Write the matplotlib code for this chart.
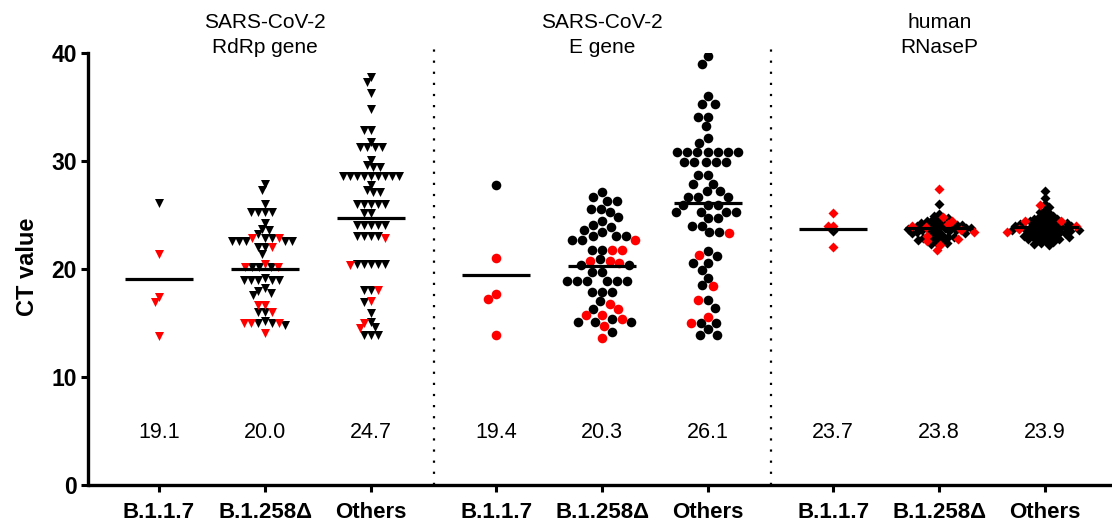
import numpy as np
import matplotlib.pyplot as plt

plt.rcParams['font.family'] = ['Liberation Sans', 'DejaVu Sans']

categories = ['B.1.1.7', 'B.1.258Δ', 'Others']
panel_titles = ['SARS-CoV-2\nRdRp gene', 'SARS-CoV-2\nE gene', 'human\nRNaseP']
mean_values = [19.1, 20.0, 24.7, 19.4, 20.3, 26.1, 23.7, 23.8, 23.9]

# RdRp gene
rdrp_b117_black = [26.1]
rdrp_b117_red = [21.4, 17.4, 16.9, 13.8]
rdrp_b1258_black = [27.9, 27.3, 26.0, 25.3, 25.3, 25.3, 25.3, 24.3, 23.7, 23.6, 23.2,
                    22.9, 22.9, 22.6, 22.6, 22.6, 22.6, 22.6, 22.0, 22.0, 21.4,
                    20.2, 20.2, 20.2, 19.0, 19.0, 19.0, 19.0, 19.0, 19.2,
                    18.0, 17.6, 17.8, 18.2, 16.0, 16.0, 15.0, 14.8, 15.0, 15.2]
rdrp_b1258_red = [22.9, 22.9, 22.0, 20.5, 20.2, 20.2, 16.7, 16.7, 16.0, 15.0, 15.0, 15.0, 14.1]
rdrp_other_black = ([37.8, 37.3, 36.3, 34.8, 32.9, 32.9, 31.8, 31.3, 31.3, 31.3, 31.3,
                     30.1, 29.4, 29.4, 29.6] + [28.6] * 9 + [27.8, 27.1, 27.1, 27.3]
                    + [26.0] * 5 + [25.2, 25.2] + [24.1] * 5 + [23.1] * 4 + [20.5] * 5
                    + [18.1, 18.1, 16.9, 15.9, 15.1, 14.6, 13.9, 13.9, 13.9])
rdrp_other_red = [22.9, 20.4, 18.1, 17.0, 15.0, 14.5]

# E gene
e_b117_black = [27.8]
e_b117_red = [21.0, 17.7, 17.2, 13.9]
e_b1258_black = ([27.1, 26.7, 26.3, 26.3, 25.6, 25.6, 25.3, 24.8, 24.4, 24.1, 23.9,
                  23.6, 23.4, 23.1, 23.1, 23.1, 22.7, 22.7, 21.8, 21.8, 20.9, 20.4,
                  20.4, 19.7, 19.7] + [18.9] * 6 + [17.9] * 3
                 + [17.0, 16.3, 15.4, 15.1, 15.1, 15.1, 14.2])
e_b1258_red = [22.7, 21.8, 21.8, 20.7, 20.7, 20.6, 16.8, 16.3, 15.7, 15.7, 15.4, 14.7, 13.6]
e_other_black = ([39.7, 39.0, 36.0, 35.3, 35.3, 34.1, 34.1, 33.2, 32.1, 31.7] + [30.8] * 7
                 + [29.9] * 5 + [28.7, 28.7, 27.9, 27.9, 27.2, 27.2] + [26.7] * 3
                 + [25.9] * 3 + [25.3] * 4
                 + [24.7, 24.7, 24.0, 24.0, 23.4, 23.4, 21.7, 21.2, 20.6, 20.6, 19.9,
                    19.2, 18.5, 17.1, 16.4, 15.0, 15.0, 14.4, 13.9, 13.9])
e_other_red = [23.3, 21.3, 18.4, 17.1, 15.6, 15.0]

# RNaseP
rnp_b117_black = [23.5]
rnp_b117_red = [25.2, 24.0, 24.0, 22.0]
rnp_b1258_black = [26.0, 25.1, 24.9, 24.7, 24.6, 24.5, 24.4, 24.3, 24.3, 24.2, 24.1, 24.1,
                   24.0, 24.0, 23.9, 23.9, 23.8, 23.8, 23.8, 23.7, 23.7, 23.6, 23.6, 23.5,
                   23.5, 23.4, 23.4, 23.3, 23.3, 23.2, 23.1, 23.0, 23.0, 22.9, 22.8, 22.7,
                   22.6, 22.5, 22.4, 22.3, 22.9]
rnp_b1258_red = [27.4, 24.8, 24.4, 24.2, 23.9, 23.6, 23.4, 23.1, 22.8, 22.6, 22.2, 21.8, 24.0]
rnp_other_black = [27.2, 26.6, 26.0, 25.7, 25.5, 25.3, 25.2, 25.0, 24.9, 24.8, 24.7, 24.6,
                   24.6, 24.5, 24.4, 24.4, 24.3, 24.3, 24.2, 24.2, 24.1, 24.1, 24.0, 24.0,
                   23.9, 23.9, 23.8, 23.8, 23.7, 23.7, 23.6, 23.6, 23.5, 23.5, 23.4, 23.4,
                   23.3, 23.3, 23.2, 23.2, 23.1, 23.1, 23.0, 23.0, 22.9, 22.9, 22.8, 22.8,
                   22.7, 22.6, 22.5, 22.4, 22.3, 22.2, 23.5, 24.0, 23.8, 23.6]
rnp_other_red = [25.9, 24.4, 24.4, 24.0, 23.7, 23.4]

groups = [
    (rdrp_b117_black, rdrp_b117_red), (rdrp_b1258_black, rdrp_b1258_red), (rdrp_other_black, rdrp_other_red),
    (e_b117_black, e_b117_red), (e_b1258_black, e_b1258_red), (e_other_black, e_other_red),
    (rnp_b117_black, rnp_b117_red), (rnp_b1258_black, rnp_b1258_red), (rnp_other_black, rnp_other_red),
]

# layout
group_gap = 0.18
positions = [p * (3 + group_gap) + i for p in range(3) for i in range(3)]
markers = ['v', 'o', 'D']
marker_sizes = [42, 48, 26]
spacing_px = [7.0, 10.0, 5.2]
PX_X = 106.0
PX_Y = 10.8


def swarm(vals, d):
    ys = np.asarray(vals, float) * PX_Y
    xs = np.zeros(len(ys))
    placed = []
    for i in np.argsort(-ys, kind='stable'):
        y = ys[i]
        cands = [0.0]
        for px, py in placed:
            dy = abs(py - y)
            if dy < d:
                dx = np.sqrt(d * d - dy * dy)
                cands += [px + dx, px - dx]
        cands.sort(key=lambda c: (round(abs(c), 6), c))
        for c in cands:
            if all((c - px) ** 2 + (y - py) ** 2 >= d * d - 1e-6 for px, py in placed):
                xs[i] = c
                break
        placed.append((xs[i], y))
    return xs / PX_X


fig = plt.figure(figsize=(11.12, 5.25), dpi=100)
ax = fig.add_axes([88 / 1112, 40 / 525, 1 - 88 / 1112, 432 / 525])

for k, (black, red) in enumerate(groups):
    panel = k // 3
    vals = list(black) + list(red)
    cols = ['black'] * len(black) + ['#ff0000'] * len(red)
    offs = swarm(vals, spacing_px[panel])
    x = positions[k] + offs
    vals = np.array(vals)
    cols = np.array(cols)
    for c, z in (('black', 3), ('#ff0000', 4)):
        m = cols == c
        ax.scatter(x[m], vals[m], s=marker_sizes[panel], marker=markers[panel],
                   color=c, linewidths=0, zorder=z)
    ax.plot([positions[k] - 0.32, positions[k] + 0.32], [mean_values[k]] * 2,
            color='black', lw=2.3, zorder=5, solid_capstyle='butt')
    ax.text(positions[k], 4.9, f'{mean_values[k]:.1f}', ha='center', va='center',
            fontsize=15.5)

for p in range(3):
    ax.text(positions[3 * p + 1], 41.7, panel_titles[p], ha='center', va='center',
            fontsize=15, linespacing=1.4, clip_on=False)

for p in range(1, 3):
    xd = (positions[3 * p - 1] + positions[3 * p]) / 2
    ax.plot([xd, xd], [0, 40.4], color='black', lw=1.6, ls=(0, (1, 4)),
            clip_on=False, zorder=1)

ax.set_xlim(-0.67, 8.99)
ax.set_ylim(0, 40)
ax.set_xticks(positions)
ax.set_xticklabels(categories * 3, fontsize=16, fontweight='bold')
ax.set_yticks([0, 10, 20, 30, 40])
ax.set_yticklabels(['0', '10', '20', '30', '40'], fontsize=16.5, fontweight='bold')
ax.tick_params(axis='both', length=5, width=2.2, direction='out')
ax.tick_params(axis='x', pad=7)
ax.tick_params(axis='y', pad=3)
for s in ('top', 'right'):
    ax.spines[s].set_visible(False)
for s in ('left', 'bottom'):
    ax.spines[s].set_linewidth(2.4)
ax.spines['bottom'].set_capstyle('butt')

fig.text(27 / 1112, 1 - 267 / 525, 'CT value', rotation=90, ha='center', va='center',
         fontsize=17, fontweight='bold')

fig.savefig('out.png', dpi=100)
